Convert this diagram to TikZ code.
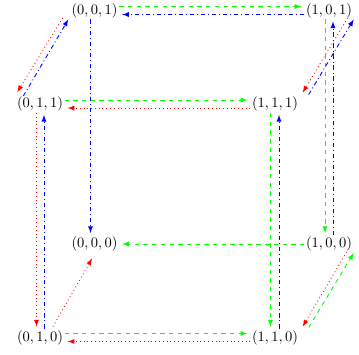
\documentclass[tikz,border=0pt]{standalone}
\usepackage{amsmath, amssymb}
\usepackage{xcolor}
\usepackage{tikz}

\begin{document}
\begin{tikzpicture}[x=0.69pt, y=-0.69pt, >=latex,
    vertex/.style={inner sep=1pt, text height=7.5pt, text depth=2.5pt},
    gline/.style={->, semithick, green, dashed},
    bline/.style={->, semithick, blue, dash dot},
    rline/.style={->, semithick, red, dotted}]
    % --- CUBE OF BINARY TRIPLES ---
    \useasboundingbox (0,0) rectangle (359,355);
    
    % Vertices of the back face
    \node[vertex] (P001) at (94.5,10.5) {$(0,0,1)$};
    \node[vertex] (P101) at (329,10.5) {$(1,0,1)$};
    \node[vertex] (P000) at (94.5,244) {$(0,0,0)$};
    \node[vertex] (P100) at (329,244) {$(1,0,0)$};
    
    % Vertices of the front face
    \node[vertex] (P011) at (40,104) {$(0,1,1)$};
    \node[vertex] (P111) at (275,104) {$(1,1,1)$};
    \node[vertex] (P010) at (40,337.5) {$(0,1,0)$};
    \node[vertex] (P110) at (275,337.5) {$(1,1,0)$};
    
    % Horizontal edges
    \draw[gline] ([shift={(0,-4)}]P001.east) -- ([shift={(-3,-4)}]P101.west);
    \draw[bline] ([shift={(0,4)}]P101.west) -- ([shift={(3,4)}]P001.east);
    \draw[gline] ([shift={(0,-4)}]P011.east) -- ([shift={(-3,-4)}]P111.west);
    \draw[rline] ([shift={(0,4)}]P111.west) -- ([shift={(3,4)}]P011.east);
    \draw[gline] (P100.west) -- ([shift={(3,0)}]P000.east);
    \draw[gline] ([shift={(0,-4)}]P010.east) -- ([shift={(-3,-4)}]P110.west);
    \draw[rline] ([shift={(0,4)}]P110.west) -- ([shift={(3,4)}]P010.east);
    
    % Vertical edges
    \draw[bline] ([shift={(-4,0)}]P001.south) -- ([shift={(-4,-2)}]P000.north);
    \draw[gline] ([shift={(-4,0)}]P101.south) -- ([shift={(-4,-2)}]P100.north);
    \draw[bline] ([shift={(4,0)}]P100.north) -- ([shift={(4,2)}]P101.south);
    \draw[rline] ([shift={(-3.5,0)}]P011.south) -- ([shift={(-3.5,-2)}]P010.north);
    \draw[bline] ([shift={(4,0)}]P010.north) -- ([shift={(4,2)}]P011.south);
    \draw[gline] ([shift={(-4.5,0)}]P111.south) -- ([shift={(-4.5,-2)}]P110.north);
    \draw[bline] ([shift={(4,0)}]P110.north) -- ([shift={(4,2)}]P111.south);
    
    % Depth edges
    \draw[rline] ([shift={(-7,-1.5)}]P001.south west) -- ([shift={(2,-3)}]P011.north west);
    \draw[bline] ([shift={(8,1)}]P011.north west) -- ([shift={(-1.5,0)}]P001.south west);
    \draw[rline] ([shift={(-6,-1.5)}]P101.south east) -- ([shift={(3,-2.5)}]P111.north east);
    \draw[bline] ([shift={(9,-0.5)}]P111.north east) -- (P101.south east);
    \draw[rline] ([shift={(13,-2)}]P010.north) -- ([shift={(-2.5,5.5)}]P000.south);
    \draw[rline] ([shift={(-7,-1)}]P100.south east) -- ([shift={(3,-2)}]P110.north east);
    \draw[gline] ([shift={(9,-1)}]P110.north east) -- (P100.south east);
    
\end{tikzpicture}
\end{document}
